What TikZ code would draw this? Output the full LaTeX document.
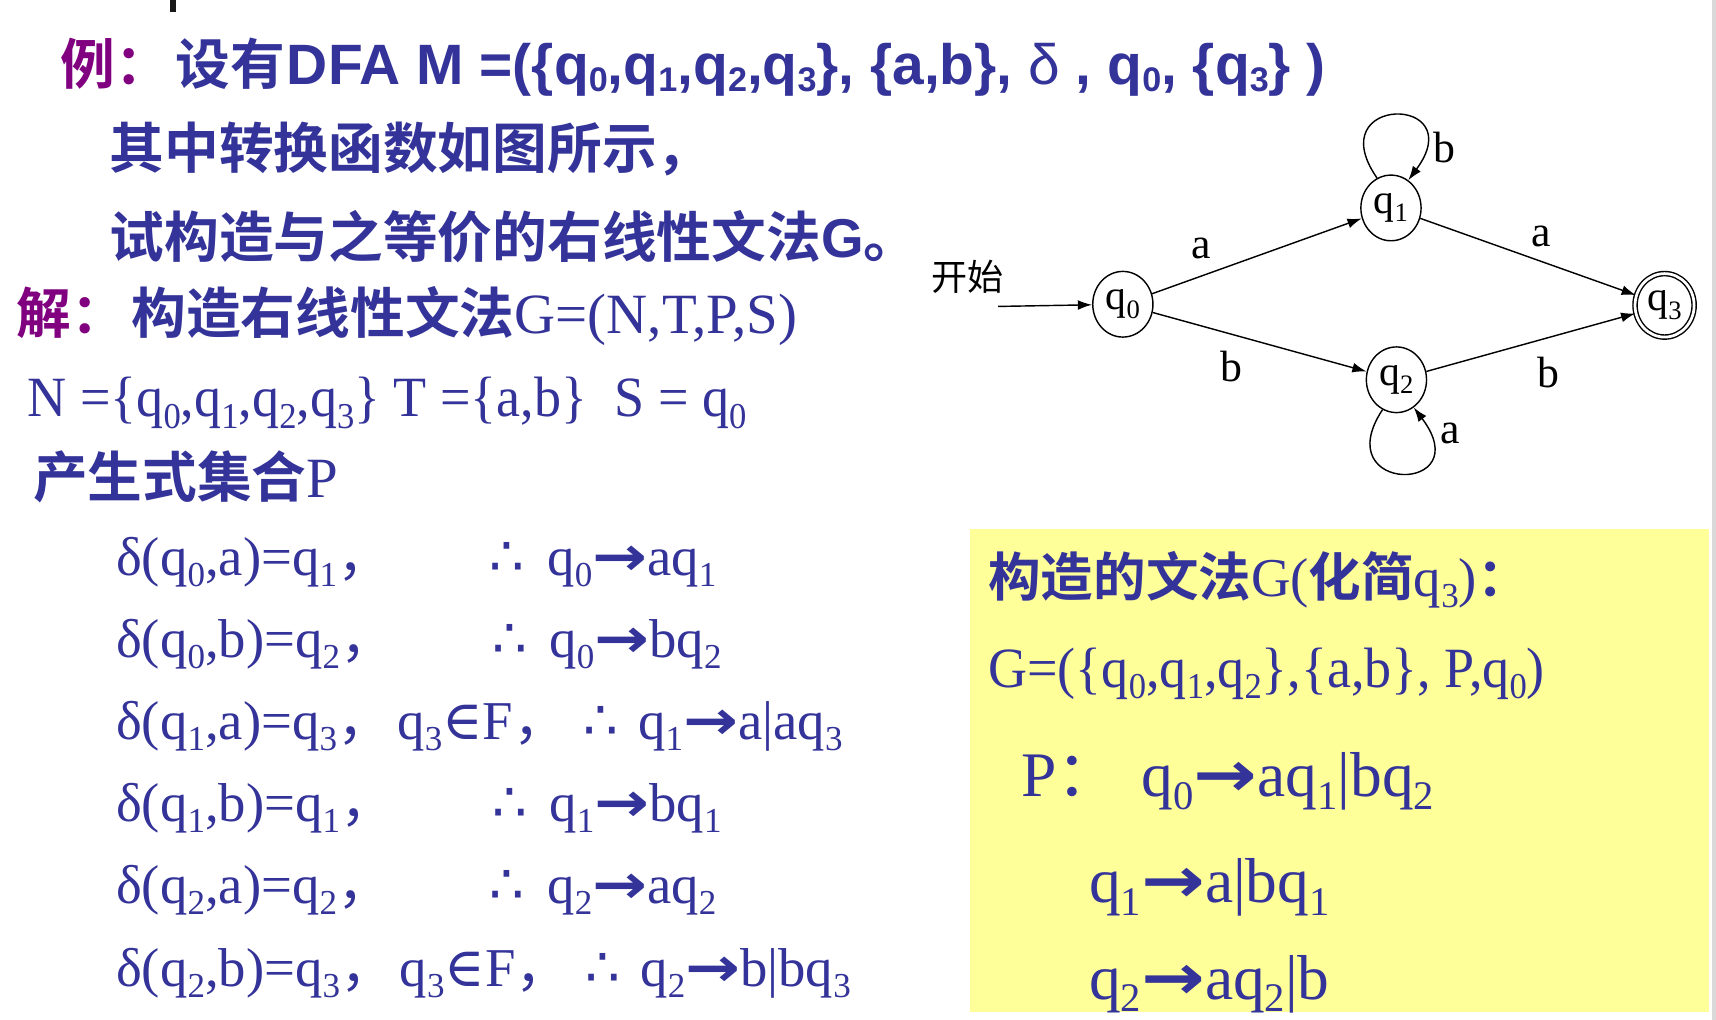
\documentclass[tikz,border=0pt]{standalone}
\usepackage{fontspec}
\usepackage{graphicx}
\usetikzlibrary{arrows.meta,shapes.geometric}
\setmainfont{Liberation Serif}
\newfontfamily\sercond[FakeStretch=0.95]{Liberation Serif}
\newfontfamily\cjkb{Noto Sans CJK SC Bold}
\newfontfamily\cjk{Noto Sans CJK SC}
\newfontfamily\lsans{Liberation Sans}
\newfontfamily\dvs{DejaVu Sans}
\newfontfamily\dvserif{DejaVu Serif}
\definecolor{tblue}{HTML}{333399}
\definecolor{tpurple}{HTML}{800080}
\definecolor{yel}{HTML}{FFFF99}
\newcommand\sbs[1]{\raisebox{-0.2em}{\scalebox{0.64}{#1}}}
\newcommand\ssb[1]{\raisebox{-0.12em}{\scalebox{0.6}{#1}}}
\newcommand\arr{{\dvs\bfseries\scalebox{1.2}[1]{→}}}
\newcommand\thus{{\dvs ∴}}
\newcommand\inF{{\dvserif ∈}}
\newcommand\fcomma{{\cjk ，}}
\newcommand\fcolon{{\cjk ：}}
\tikzset{
  txt/.style={anchor=base west, inner sep=0pt, text=tblue},
  cjkt/.style={txt, font=\cjkb\fontsize{50pt}{60pt}\selectfont},
  sanst/.style={txt, font=\lsans\bfseries\fontsize{52pt}{60pt}\selectfont},
  sert/.style={txt, font=\sercond\fontsize{52pt}{60pt}\selectfont},
  rowt/.style={txt, font=\rmfamily\fontsize{50pt}{60pt}\selectfont},
  bigt/.style={txt, font=\rmfamily\fontsize{58pt}{66pt}\selectfont},
  st/.style={draw, ellipse, minimum width=55pt, minimum height=60pt, inner sep=0pt,
    line width=1.3pt, font=\rmfamily\fontsize{38pt}{40pt}\selectfont},
  edge/.style={line width=1.3pt, -{Latex[length=13pt,width=9pt]}},
  lbl/.style={inner sep=0pt, font=\rmfamily\fontsize{40pt}{44pt}\selectfont},
}
\begin{document}
\begin{tikzpicture}[x=1pt,y=-1pt]
\useasboundingbox (0,0) rectangle (1568,932);
\fill[white] (0,0) rectangle (1568,932);
\fill[white!85!black] (1564.5,0) rectangle (1568,932);
\fill[black!90] (155,0) rectangle (161,11);
\fill[yel] (886,483) rectangle (1562,925);
% line 1
\node[cjkt, text=tpurple] (l1a) at (55,77) {例：};
\node[cjkt] (l1b) at (160,77) {设有};
\node[sanst] (l1c) at (262,77) {DFA M =(\{q\ssb{0},q\ssb{1},q\ssb{2},q\ssb{3}\}, \{a,b\}, {\mdseries δ} , q\ssb{0}, \{q\ssb{3}\} )};
% line 2,3
\node[cjkt] (l2) at (100,154) {其中转换函数如图所示，};
\node[cjkt] (l3) at (100,235) {试构造与之等价的右线性文法{\lsans\bfseries G}。};
% line 4
\node[cjkt, text=tpurple] (l4a) at (15,305) {解：};
\node[cjkt] (l4b) at (120,305) {构造右线性文法{\rmfamily\mdseries\fontsize{52pt}{60pt}\selectfont G=(N,T,P,S)}};
% line 5
\node[sert] (l5) at (25,381) {N =\{q\sbs{0},q\sbs{1},q\sbs{2},q\sbs{3}\} T =\{a,b\}\ \ S = q\sbs{0}};
% line 6
\node[cjkt] (l6) at (30,455) {产生式集合{\rmfamily\mdseries\fontsize{52pt}{60pt}\selectfont P}};
% rows
\node[rowt] (r1a) at (106,526) {δ(q\sbs{0},a)=q\sbs{1}\fcomma};
\node[rowt] (r1t) at (447,526) {\thus};
\node[rowt] (r1b) at (500,526) {q\sbs{0}\arr aq\sbs{1}};
\node[rowt] (r2a) at (106,601) {δ(q\sbs{0},b)=q\sbs{2}\fcomma};
\node[rowt] (r2t) at (450,601) {\thus};
\node[rowt] (r2b) at (502,601) {q\sbs{0}\arr bq\sbs{2}};
\node[rowt] (r3a) at (106,676) {δ(q\sbs{1},a)=q\sbs{3}\fcomma};
\node[rowt] (r3m) at (363,676) {q\sbs{3}\inF F\fcomma};
\node[rowt] (r3t) at (533,676) {\thus};
\node[rowt] (r3b) at (583,676) {q\sbs{1}\arr a|aq\sbs{3}};
\node[rowt] (r4a) at (106,751) {δ(q\sbs{1},b)=q\sbs{1}\fcomma};
\node[rowt] (r4t) at (450,751) {\thus};
\node[rowt] (r4b) at (502,751) {q\sbs{1}\arr bq\sbs{1}};
\node[rowt] (r5a) at (106,826) {δ(q\sbs{2},a)=q\sbs{2}\fcomma};
\node[rowt] (r5t) at (447,826) {\thus};
\node[rowt] (r5b) at (500,826) {q\sbs{2}\arr aq\sbs{2}};
\node[rowt] (r6a) at (106,901) {δ(q\sbs{2},b)=q\sbs{3}\fcomma};
\node[rowt] (r6m) at (365,901) {q\sbs{3}\inF F\fcomma};
\node[rowt] (r6t) at (535,901) {\thus};
\node[rowt] (r6b) at (585,901) {q\sbs{2}\arr b|bq\sbs{3}};
% yellow box text
\node[cjkt, font=\cjkb\fontsize{48pt}{56pt}\selectfont] (y1) at (903,545) {构造的文法{\rmfamily\mdseries\fontsize{50pt}{56pt}\selectfont G(}化简{\rmfamily\mdseries\fontsize{50pt}{56pt}\selectfont q\sbs{3})}：};
\node[sert] (y2) at (903,628) {G=(\{q\sbs{0},q\sbs{1},q\sbs{2}\},\{a,b\}, P,q\sbs{0})};
\node[bigt] (y3a) at (933,728) {P\fcolon};
\node[bigt] (y3b) at (1043,728) {q\sbs{0}\arr aq\sbs{1}|bq\sbs{2}};
\node[bigt] (y4) at (995,825) {q\sbs{1}\arr a|bq\sbs{1}};
\node[bigt] (y5) at (995,913) {q\sbs{2}\arr aq\sbs{2}|b};
% automaton
\node[st] (q0) at (1026,278) {q\sbs{0}};
\node[st] (q1) at (1271,190) {q\sbs{1}};
\node[st] (q2) at (1276,347) {q\sbs{2}};
\node[st, double, double distance=2.5pt, minimum width=54pt, minimum height=58pt] (q3) at (1521,279) {q\sbs{3}};
\coordinate (s) at (912,280);
\node[inner sep=0pt, font=\cjk\fontsize{33pt}{36pt}\selectfont] (start) at (884,253) {开始};
\draw[edge] (s) -- (q0);
\draw[edge] (q0) -- (q1);
\draw[edge] (q0) -- (q2);
\draw[edge] (q1) -- (q3);
\draw[edge] (q2) -- (q3);
\draw[edge] (q1.115) .. controls (1205,86) and (1345,86) .. (q1.58);
\draw[edge] (q2.245) .. controls (1212,452) and (1352,452) .. (q2.-58);
\node[lbl] (la) at (1098,227) {a};
\node[lbl] (lb) at (1125,335) {b};
\node[lbl] (la2) at (1408,216) {a};
\node[lbl] (lb2) at (1415,340) {b};
\node[lbl] (lb1) at (1320,135) {b};
\node[lbl] (la1) at (1325,396) {a};
\end{tikzpicture}
\end{document}
